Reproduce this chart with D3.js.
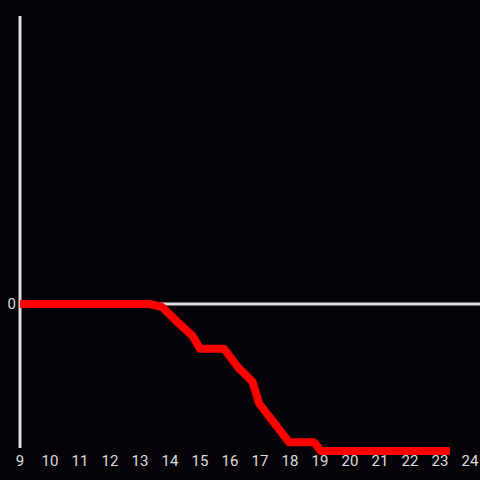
<!DOCTYPE html>
<html>
<head>
<meta charset="utf-8">
<script src="https://cdn.jsdelivr.net/npm/d3@7"></script>
<style>
  html, body { margin: 0; padding: 0; background: #050307; }
  svg { display: block; }
</style>
</head>
<body>
<script>
// hours along the x axis and the value at each hour
const hours = [9, 13.3, 13.73, 14.27, 14.75, 15, 15.8, 16.27, 16.75, 16.97, 17.97, 18.8, 19.03, 23.33];
const values = [0, 0, -0.02, -0.13, -0.22, -0.31, -0.31, -0.44, -0.54, -0.69, -0.96, -0.96, -1.02, -1.02];
const xTicks = [9, 10, 11, 12, 13, 14, 15, 16, 17, 18, 19, 20, 21, 22, 23, 24];
const yTicks = [0];

const width = 480, height = 480;

const svg = d3.select('body')
    .append('svg')
    .attr('width', width)
    .attr('height', height);

svg.append('rect')
    .attr('width', width)
    .attr('height', height)
    .attr('fill', '#050307');

// scales
const x = d3.scaleLinear().domain([9, 24]).range([20, 470]);
const y = d3.scaleLinear().domain([-1, 2]).range([448, 16]);

// zero line
svg.append('line')
    .attr('x1', x(9)).attr('x2', width)
    .attr('y1', y(0)).attr('y2', y(0))
    .attr('stroke', '#e0e0e0')
    .attr('stroke-width', 3);

// y axis line
svg.append('line')
    .attr('x1', x(9)).attr('x2', x(9))
    .attr('y1', y(2)).attr('y2', y(-1))
    .attr('stroke', '#e0e0e0')
    .attr('stroke-width', 3);

// y tick labels
svg.selectAll('.ylab')
    .data(yTicks)
    .enter().append('text')
    .attr('x', x(9) - 4)
    .attr('y', d => y(d))
    .attr('dy', '0.35em')
    .attr('text-anchor', 'end')
    .attr('fill', '#dddddd')
    .style('font', '15px Roboto, sans-serif')
    .text(d => d);

// x tick labels
svg.selectAll('.xlab')
    .data(xTicks)
    .enter().append('text')
    .attr('x', d => x(d))
    .attr('y', 466)
    .attr('text-anchor', 'middle')
    .attr('fill', '#dddddd')
    .style('font', '15px Roboto, sans-serif')
    .text(d => d);

// the line
const data = hours.map((h, i) => ({ h: h, v: values[i] }));
const line = d3.line()
    .x(d => x(d.h))
    .y(d => y(d.v));

svg.append('path')
    .datum(data)
    .attr('fill', 'none')
    .attr('stroke', '#ff0000')
    .attr('stroke-width', 8)
    .attr('stroke-linejoin', 'round')
    .attr('d', line);
</script>
</body>
</html>
